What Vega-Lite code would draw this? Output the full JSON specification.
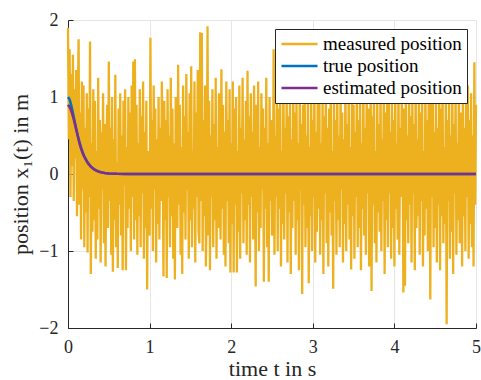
{
"$schema":"https://vega.github.io/schema/vega-lite/v6.json",
"width":408,"height":308,
"autosize":"none",
"padding":{"left":68,"top":20,"right":5,"bottom":52},
"background":"white",
"datasets":{
"meas":[
{"t":0.00,"m":1.90},{"t":0.01,"m":0.45},{"t":0.02,"m":1.62},{"t":0.03,"m":-0.30},{"t":0.04,"m":1.30},{"t":0.05,"m":0.10},{"t":0.06,"m":1.55},{"t":0.07,"m":-0.35},{"t":0.08,"m":1.10},{"t":0.09,"m":0.20},
{"t":0.10,"m":1.35},{"t":0.11,"m":-0.55},{"t":0.12,"m":0.95},{"t":0.13,"m":1.75},{"t":0.14,"m":-0.40},{"t":0.15,"m":0.80},{"t":0.16,"m":-0.85},{"t":0.17,"m":1.20},{"t":0.18,"m":-0.20},{"t":0.19,"m":1.15},
{"t":0.20,"m":-0.95},{"t":0.21,"m":0.60},{"t":0.22,"m":-0.50},{"t":0.23,"m":1.05},{"t":0.24,"m":-1.02},{"t":0.25,"m":0.85},{"t":0.26,"m":-0.30},{"t":0.27,"m":1.72},{"t":0.28,"m":-1.30},{"t":0.29,"m":0.40},
{"t":0.30,"m":-0.75},{"t":0.31,"m":1.10},{"t":0.32,"m":-0.60},{"t":0.33,"m":0.95},{"t":0.34,"m":-1.10},{"t":0.35,"m":0.30},{"t":0.36,"m":-0.85},{"t":0.37,"m":1.25},{"t":0.38,"m":-0.45},{"t":0.39,"m":0.70},
{"t":0.40,"m":-1.15},{"t":0.41,"m":0.55},{"t":0.42,"m":-0.20},{"t":0.43,"m":1.05},{"t":0.44,"m":-0.90},{"t":0.45,"m":0.65},{"t":0.46,"m":-1.20},{"t":0.47,"m":0.25},{"t":0.48,"m":0.90},{"t":0.49,"m":-0.70},
{"t":0.50,"m":1.46},{"t":0.51,"m":-0.35},{"t":0.52,"m":0.60},{"t":0.53,"m":-1.05},{"t":0.54,"m":1.00},{"t":0.55,"m":-1.27},{"t":0.56,"m":0.45},{"t":0.57,"m":-0.60},{"t":0.58,"m":1.29},{"t":0.59,"m":-0.95},
{"t":0.60,"m":0.15},{"t":0.61,"m":-1.22},{"t":0.62,"m":0.85},{"t":0.63,"m":-0.40},{"t":0.64,"m":1.05},{"t":0.65,"m":-0.80},{"t":0.66,"m":0.50},{"t":0.67,"m":-1.25},{"t":0.68,"m":0.95},{"t":0.69,"m":-0.15},
{"t":0.70,"m":1.10},{"t":0.71,"m":-1.25},{"t":0.72,"m":0.35},{"t":0.73,"m":-0.70},{"t":0.74,"m":1.00},{"t":0.75,"m":-0.45},{"t":0.76,"m":0.80},{"t":0.77,"m":-1.00},{"t":0.78,"m":1.15},{"t":0.79,"m":-0.30},
{"t":0.80,"m":1.46},{"t":0.81,"m":-0.85},{"t":0.82,"m":1.49},{"t":0.83,"m":-0.60},{"t":0.84,"m":0.90},{"t":0.85,"m":-1.05},{"t":0.86,"m":0.40},{"t":0.87,"m":-0.55},{"t":0.88,"m":1.10},{"t":0.89,"m":-0.95},
{"t":0.90,"m":0.75},{"t":0.91,"m":-0.25},{"t":0.92,"m":1.20},{"t":0.93,"m":-1.10},{"t":0.94,"m":0.55},{"t":0.95,"m":-0.70},{"t":0.96,"m":0.95},{"t":0.97,"m":-1.50},{"t":0.98,"m":0.30},{"t":0.99,"m":-0.40},
{"t":1.00,"m":-0.80},{"t":1.01,"m":1.77},{"t":1.02,"m":-0.45},{"t":1.03,"m":0.70},{"t":1.04,"m":-1.00},{"t":1.05,"m":1.15},{"t":1.06,"m":-0.20},{"t":1.07,"m":0.85},{"t":1.08,"m":-1.15},{"t":1.09,"m":0.45},
{"t":1.10,"m":-0.65},{"t":1.11,"m":1.00},{"t":1.12,"m":-0.85},{"t":1.13,"m":0.60},{"t":1.14,"m":-0.35},{"t":1.15,"m":1.20},{"t":1.16,"m":0.25},{"t":1.17,"m":-1.33},{"t":1.18,"m":0.95},{"t":1.19,"m":-0.60},
{"t":1.20,"m":0.70},{"t":1.21,"m":-1.35},{"t":1.22,"m":1.10},{"t":1.23,"m":-0.30},{"t":1.24,"m":0.50},{"t":1.25,"m":-0.95},{"t":1.26,"m":1.25},{"t":1.27,"m":-0.55},{"t":1.28,"m":0.85},{"t":1.29,"m":-1.10},
{"t":1.30,"m":0.40},{"t":1.31,"m":-1.37},{"t":1.32,"m":1.00},{"t":1.33,"m":-0.25},{"t":1.34,"m":-0.70},{"t":1.35,"m":1.42},{"t":1.36,"m":-0.40},{"t":1.37,"m":0.90},{"t":1.38,"m":-1.05},{"t":1.39,"m":0.35},
{"t":1.40,"m":-1.30},{"t":1.41,"m":1.15},{"t":1.42,"m":-0.50},{"t":1.43,"m":0.75},{"t":1.44,"m":-0.85},{"t":1.45,"m":1.30},{"t":1.46,"m":-0.20},{"t":1.47,"m":0.55},{"t":1.48,"m":-1.10},{"t":1.49,"m":1.05},
{"t":1.50,"m":-0.60},{"t":1.51,"m":1.40},{"t":1.52,"m":-0.95},{"t":1.53,"m":0.30},{"t":1.54,"m":-0.45},{"t":1.55,"m":1.20},{"t":1.56,"m":-1.15},{"t":1.57,"m":0.80},{"t":1.58,"m":-0.30},{"t":1.59,"m":1.35},
{"t":1.60,"m":-0.75},{"t":1.61,"m":-0.90},{"t":1.62,"m":1.84},{"t":1.63,"m":-0.35},{"t":1.64,"m":1.83},{"t":1.65,"m":-1.00},{"t":1.66,"m":0.70},{"t":1.67,"m":-0.55},{"t":1.68,"m":1.15},{"t":1.69,"m":-1.20},
{"t":1.70,"m":-0.40},{"t":1.71,"m":1.92},{"t":1.72,"m":-0.80},{"t":1.73,"m":0.95},{"t":1.74,"m":-1.25},{"t":1.75,"m":0.50},{"t":1.76,"m":-0.30},{"t":1.77,"m":1.10},{"t":1.78,"m":-0.95},{"t":1.79,"m":0.65},
{"t":1.80,"m":-0.60},{"t":1.81,"m":1.25},{"t":1.82,"m":-1.10},{"t":1.83,"m":0.35},{"t":1.84,"m":-0.70},{"t":1.85,"m":1.05},{"t":1.86,"m":-0.20},{"t":1.87,"m":-0.85},{"t":1.88,"m":1.36},{"t":1.89,"m":-0.45},
{"t":1.90,"m":0.90},{"t":1.91,"m":-1.05},{"t":1.92,"m":0.55},{"t":1.93,"m":-1.20},{"t":1.94,"m":1.20},{"t":1.95,"m":-0.35},{"t":1.96,"m":0.70},{"t":1.97,"m":-0.90},{"t":1.98,"m":1.10},{"t":1.99,"m":-1.28},
{"t":2.00,"m":0.40},{"t":2.01,"m":-0.65},{"t":2.02,"m":1.20},{"t":2.03,"m":-1.28},{"t":2.04,"m":0.85},{"t":2.05,"m":-0.40},{"t":2.06,"m":1.00},{"t":2.07,"m":-1.28},{"t":2.08,"m":0.30},{"t":2.09,"m":-0.75},
{"t":2.10,"m":1.15},{"t":2.11,"m":-1.10},{"t":2.12,"m":0.60},{"t":2.13,"m":-0.25},{"t":2.14,"m":1.25},{"t":2.15,"m":-0.90},{"t":2.16,"m":0.45},{"t":2.17,"m":-0.60},{"t":2.18,"m":0.95},{"t":2.19,"m":-1.05},
{"t":2.20,"m":1.34},{"t":2.21,"m":-0.40},{"t":2.22,"m":0.75},{"t":2.23,"m":-1.15},{"t":2.24,"m":1.05},{"t":2.25,"m":-0.30},{"t":2.26,"m":0.55},{"t":2.27,"m":-0.85},{"t":2.28,"m":1.15},{"t":2.29,"m":0.25},
{"t":2.30,"m":-1.46},{"t":2.31,"m":0.90},{"t":2.32,"m":-0.50},{"t":2.33,"m":1.20},{"t":2.34,"m":-1.00},{"t":2.35,"m":0.35},{"t":2.36,"m":-0.70},{"t":2.37,"m":1.05},{"t":2.38,"m":-0.20},{"t":2.39,"m":0.85},
{"t":2.40,"m":-1.40},{"t":2.41,"m":0.60},{"t":2.42,"m":-0.45},{"t":2.43,"m":1.25},{"t":2.44,"m":-0.95},{"t":2.45,"m":0.40},{"t":2.46,"m":-1.40},{"t":2.47,"m":1.00},{"t":2.48,"m":-0.35},{"t":2.49,"m":0.70},
{"t":2.50,"m":-0.80},{"t":2.51,"m":-0.55},{"t":2.52,"m":1.62},{"t":2.53,"m":-1.05},{"t":2.54,"m":0.50},{"t":2.55,"m":-0.30},{"t":2.56,"m":1.20},{"t":2.57,"m":-1.00},{"t":2.58,"m":0.85},{"t":2.59,"m":-0.45},
{"t":2.60,"m":1.10},{"t":2.61,"m":-1.20},{"t":2.62,"m":0.30},{"t":2.63,"m":-0.65},{"t":2.64,"m":1.30},{"t":2.65,"m":-0.85},{"t":2.66,"m":0.60},{"t":2.67,"m":-0.25},{"t":2.68,"m":1.05},{"t":2.69,"m":-1.15},
{"t":2.70,"m":0.75},{"t":2.71,"m":-0.50},{"t":2.72,"m":0.95},{"t":2.73,"m":-1.30},{"t":2.74,"m":0.45},{"t":2.75,"m":-0.70},{"t":2.76,"m":1.20},{"t":2.77,"m":-0.35},{"t":2.78,"m":0.80},{"t":2.79,"m":-1.05},
{"t":2.80,"m":1.00},{"t":2.81,"m":-0.60},{"t":2.82,"m":0.40},{"t":2.83,"m":-1.25},{"t":2.84,"m":1.15},{"t":2.85,"m":-0.20},{"t":2.86,"m":0.65},{"t":2.87,"m":-1.56},{"t":2.88,"m":0.90},{"t":2.89,"m":-0.40},
{"t":2.90,"m":1.25},{"t":2.91,"m":-0.95},{"t":2.92,"m":0.50},{"t":2.93,"m":-0.70},{"t":2.94,"m":1.05},{"t":2.95,"m":-1.42},{"t":2.96,"m":0.35},{"t":2.97,"m":-0.55},{"t":2.98,"m":1.10},{"t":2.99,"m":-1.00},
{"t":3.00,"m":0.70},{"t":3.01,"m":-0.30},{"t":3.02,"m":1.20},{"t":3.03,"m":-1.15},{"t":3.04,"m":0.55},{"t":3.05,"m":-0.75},{"t":3.06,"m":0.95},{"t":3.07,"m":-0.45},{"t":3.08,"m":1.30},{"t":3.09,"m":-1.05},
{"t":3.10,"m":0.40},{"t":3.11,"m":-0.60},{"t":3.12,"m":1.00},{"t":3.13,"m":-1.30},{"t":3.14,"m":0.75},{"t":3.15,"m":-0.25},{"t":3.16,"m":1.15},{"t":3.17,"m":-0.90},{"t":3.18,"m":0.60},{"t":3.19,"m":-1.20},
{"t":3.20,"m":0.85},{"t":3.21,"m":-0.50},{"t":3.22,"m":1.25},{"t":3.23,"m":-0.80},{"t":3.24,"m":0.30},{"t":3.25,"m":-1.49},{"t":3.26,"m":1.05},{"t":3.27,"m":-0.35},{"t":3.28,"m":0.70},{"t":3.29,"m":-1.05},
{"t":3.30,"m":1.20},{"t":3.31,"m":-0.60},{"t":3.32,"m":0.50},{"t":3.33,"m":-0.95},{"t":3.34,"m":1.10},{"t":3.35,"m":-0.20},{"t":3.36,"m":0.80},{"t":3.37,"m":-1.15},{"t":3.38,"m":0.45},{"t":3.39,"m":-0.65},
{"t":3.40,"m":1.30},{"t":3.41,"m":-1.00},{"t":3.42,"m":0.65},{"t":3.43,"m":-0.40},{"t":3.44,"m":1.05},{"t":3.45,"m":-0.85},{"t":3.46,"m":0.35},{"t":3.47,"m":-1.24},{"t":3.48,"m":1.15},{"t":3.49,"m":-0.55},
{"t":3.50,"m":0.90},{"t":3.51,"m":-1.10},{"t":3.52,"m":0.55},{"t":3.53,"m":-0.30},{"t":3.54,"m":1.25},{"t":3.55,"m":-0.95},{"t":3.56,"m":0.70},{"t":3.57,"m":-0.70},{"t":3.58,"m":1.00},{"t":3.59,"m":-1.25},
{"t":3.60,"m":0.40},{"t":3.61,"m":-0.45},{"t":3.62,"m":1.20},{"t":3.63,"m":-0.80},{"t":3.64,"m":0.60},{"t":3.65,"m":-1.05},{"t":3.66,"m":1.10},{"t":3.67,"m":-0.25},{"t":3.68,"m":0.85},{"t":3.69,"m":-1.20},
{"t":3.70,"m":0.50},{"t":3.71,"m":1.00},{"t":3.72,"m":-1.52},{"t":3.73,"m":0.75},{"t":3.74,"m":-0.40},{"t":3.75,"m":1.25},{"t":3.76,"m":-0.90},{"t":3.77,"m":0.30},{"t":3.78,"m":-1.15},{"t":3.79,"m":1.05},
{"t":3.80,"m":-0.50},{"t":3.81,"m":0.65},{"t":3.82,"m":-0.75},{"t":3.83,"m":1.20},{"t":3.84,"m":-1.00},{"t":3.85,"m":0.45},{"t":3.86,"m":-0.35},{"t":3.87,"m":1.10},{"t":3.88,"m":-1.30},{"t":3.89,"m":0.80},
{"t":3.90,"m":-0.60},{"t":3.91,"m":0.95},{"t":3.92,"m":-0.95},{"t":3.93,"m":1.25},{"t":3.94,"m":-0.25},{"t":3.95,"m":0.55},{"t":3.96,"m":-1.10},{"t":3.97,"m":1.00},{"t":3.98,"m":-0.70},{"t":3.99,"m":0.70},
{"t":4.00,"m":-1.20},{"t":4.01,"m":1.15},{"t":4.02,"m":-0.45},{"t":4.03,"m":0.40},{"t":4.04,"m":-0.85},{"t":4.05,"m":1.30},{"t":4.06,"m":-1.05},{"t":4.07,"m":0.60},{"t":4.08,"m":-0.30},{"t":4.09,"m":1.05},
{"t":4.10,"m":0.35},{"t":4.11,"m":-1.54},{"t":4.12,"m":0.85},{"t":4.13,"m":-1.45},{"t":4.14,"m":1.10},{"t":4.15,"m":-0.60},{"t":4.16,"m":0.50},{"t":4.17,"m":-0.90},{"t":4.18,"m":1.20},{"t":4.19,"m":-0.40},
{"t":4.20,"m":0.75},{"t":4.21,"m":-1.15},{"t":4.22,"m":1.00},{"t":4.23,"m":-0.25},{"t":4.24,"m":0.65},{"t":4.25,"m":-1.25},{"t":4.26,"m":1.25},{"t":4.27,"m":-0.70},{"t":4.28,"m":0.45},{"t":4.29,"m":-0.55},
{"t":4.30,"m":1.05},{"t":4.31,"m":-1.05},{"t":4.32,"m":0.80},{"t":4.33,"m":-0.35},{"t":4.34,"m":1.15},{"t":4.35,"m":-1.20},{"t":4.36,"m":0.30},{"t":4.37,"m":-0.80},{"t":4.38,"m":1.20},{"t":4.39,"m":-0.45},
{"t":4.40,"m":0.70},{"t":4.41,"m":-1.00},{"t":4.42,"m":1.00},{"t":4.43,"m":0.40},{"t":4.44,"m":-1.63},{"t":4.45,"m":0.95},{"t":4.46,"m":-0.30},{"t":4.47,"m":1.25},{"t":4.48,"m":-0.95},{"t":4.49,"m":0.55},
{"t":4.50,"m":-0.70},{"t":4.51,"m":1.10},{"t":4.52,"m":-1.15},{"t":4.53,"m":0.60},{"t":4.54,"m":-0.40},{"t":4.55,"m":1.05},{"t":4.56,"m":-1.25},{"t":4.57,"m":0.85},{"t":4.58,"m":-0.55},{"t":4.59,"m":1.20},
{"t":4.60,"m":-0.90},{"t":4.61,"m":0.35},{"t":4.62,"m":-0.65},{"t":4.63,"m":1.00},{"t":4.64,"m":-1.95},{"t":4.65,"m":0.70},{"t":4.66,"m":-0.35},{"t":4.67,"m":1.15},{"t":4.68,"m":-1.10},{"t":4.69,"m":0.50},
{"t":4.70,"m":-0.75},{"t":4.71,"m":1.25},{"t":4.72,"m":-1.30},{"t":4.73,"m":0.65},{"t":4.74,"m":-0.25},{"t":4.75,"m":1.05},{"t":4.76,"m":-1.05},{"t":4.77,"m":0.40},{"t":4.78,"m":-0.60},{"t":4.79,"m":1.20},
{"t":4.80,"m":-0.90},{"t":4.81,"m":0.80},{"t":4.82,"m":0.30},{"t":4.83,"m":-1.20},{"t":4.84,"m":1.10},{"t":4.85,"m":-0.55},{"t":4.86,"m":0.60},{"t":4.87,"m":-1.00},{"t":4.88,"m":1.00},{"t":4.89,"m":-0.30},
{"t":4.90,"m":1.15},{"t":4.91,"m":-1.10},{"t":4.92,"m":0.70},{"t":4.93,"m":-0.65},{"t":4.94,"m":1.05},{"t":4.95,"m":-0.95},{"t":4.96,"m":0.50},{"t":4.97,"m":-1.20},{"t":4.98,"m":1.45},{"t":4.99,"m":-0.40},
{"t":5.00,"m":0.90}
],
"curve":[
{"t":0,"x":1.0,"e":0.9},{"t":0.02,"x":0.967,"e":0.87},{"t":0.04,"x":0.891,"e":0.82},{"t":0.06,"x":0.794,"e":0.75},{"t":0.08,"x":0.692,"e":0.67},{"t":0.10,"x":0.592,"e":0.58},{"t":0.12,"x":0.50,"e":0.49},{"t":0.14,"x":0.417,"e":0.40},{"t":0.16,"x":0.345,"e":0.33},{"t":0.18,"x":0.283,"e":0.27},{"t":0.20,"x":0.231,"e":0.22},{"t":0.24,"x":0.151,"e":0.145},{"t":0.28,"x":0.098,"e":0.093},{"t":0.32,"x":0.062,"e":0.06},{"t":0.36,"x":0.039,"e":0.037},{"t":0.40,"x":0.024,"e":0.023},{"t":0.45,"x":0.013,"e":0.012},{"t":0.50,"x":0.007,"e":0.007},{"t":0.60,"x":0.002,"e":0.002},{"t":0.70,"x":0.0005,"e":0.0005},{"t":0.80,"x":0,"e":0},{"t":2,"x":0,"e":0},{"t":3,"x":0,"e":0},{"t":4,"x":0,"e":0},{"t":5,"x":0,"e":0}
]
},
"layer":[
{"data":{"name":"meas"},"mark":{"type":"line","strokeWidth":2.3,"strokeJoin":"miter"},
 "encoding":{"x":{"field":"t","type":"quantitative"},"y":{"field":"m","type":"quantitative"},"color":{"datum":"measured position"}}},
{"data":{"name":"curve"},"mark":{"type":"line","strokeWidth":2.5},
 "encoding":{"x":{"field":"t","type":"quantitative"},"y":{"field":"x","type":"quantitative"},"color":{"datum":"true position"}}},
{"data":{"name":"curve"},"mark":{"type":"line","strokeWidth":2.5},
 "encoding":{"x":{"field":"t","type":"quantitative"},"y":{"field":"e","type":"quantitative"},"color":{"datum":"estimated position"}}}
],
"encoding":{
 "x":{"field":"t","type":"quantitative","scale":{"domain":[0,5],"nice":false},"axis":{"title":"time t in s","values":[0,1,2,3,4,5],"format":"d"}},
 "y":{"field":"m","type":"quantitative","scale":{"domain":[-2,2],"nice":false},"axis":{"title":"position x₁(t) in m","values":[-2,-1,0,1,2],"format":"d"}},
 "color":{"type":"nominal","scale":{"domain":["measured position","true position","estimated position"],"range":["#EDB120","#0072BD","#7E2F8E"]},
  "legend":{"title":null,"orient":"top-right","offset":9}}
},
"config":{
 "view":{"stroke":null},
 "font":"Liberation Serif, DejaVu Serif, serif",
 "axis":{"labelFont":"Liberation Serif, DejaVu Serif, serif","titleFont":"Liberation Serif, DejaVu Serif, serif","labelFontSize":18,"titleFontSize":22,"titleFontWeight":"normal",
  "labelColor":"#262626","titleColor":"#262626","domainColor":"#262626","tickColor":"#262626","gridColor":"#e6e6e6","gridOpacity":1,
  "tickSize":-5,"labelPadding":15,"titlePadding":2,"labelFlush":false},
 "axisY":{"titlePadding":6},
 "legend":{"labelFont":"Liberation Serif, DejaVu Serif, serif","labelFontSize":19,"labelColor":"#000000","symbolType":"stroke","symbolSize":1300,"symbolStrokeWidth":2.5,
  "strokeColor":"#262626","fillColor":"#ffffff","padding":5,"rowPadding":2,"clipHeight":20,"labelOffset":4,"labelLimit":300,"cornerRadius":0}
}
}
